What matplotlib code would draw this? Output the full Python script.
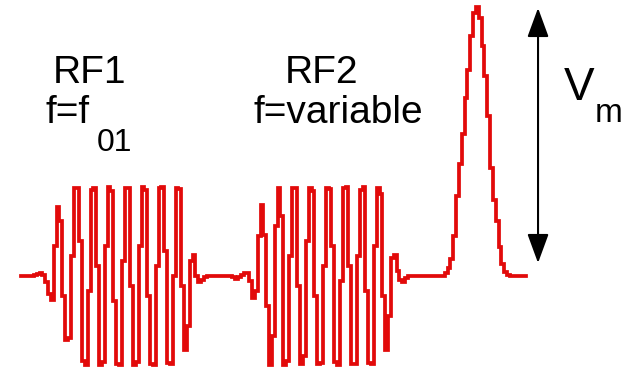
import numpy as np
import matplotlib
matplotlib.use("Agg")
import matplotlib.pyplot as plt

# sampled trace, amplitude above baseline, one value per sample
rf1 = [0, 0, 0, 0, 0, 1, 2, 3, 1, -6, -18, -24, 30, 69, 55, -20, -64, -62,
       20, 88, 88, 35, -85, -89, -15, 86, 88, 10, -89, -86, 30, 89, 85, -25,
       -88, -89, 15, 88, 88, -10, -89, -86, 30, 89, 86, -20, -88, -89, 10,
       88, 89, 25, -87, -88, 0, 88, 87, -10, -74, -50, 15, 21, 0, -6, -4, -1, 0]
rf2 = [0, 0, 0, 0, -1, -3, -1, 1, 3, 3, -5, -22, -15, 40, 71, 41, -30, -89,
       -60, 50, 88, 60, -89, -85, 20, 88, 88, -10, -88, -80, 35, 88, 85, -20,
       -88, -87, 10, 88, 87, 30, -86, -89, -5, 88, 89, 10, -88, -88, 20, 86,
       89, -15, -87, -88, 30, 88, 82, -20, -74, -40, 18, 21, 5, -4, -6, -2, 0]
pulse = [0, 3, 8, 17, 40, 80, 112, 142, 178, 206, 240, 263, 269, 258, 230,
         200, 160, 108, 76, 55, 29, 12, 4, 1, 0, 0, 0, 0, 0, 0]
gap1 = 4
gap2 = 11
vm_top = 268
vm_bottom = 13

signal = np.concatenate([rf1, np.zeros(gap1), rf2, np.zeros(gap2), pulse])
t = np.arange(len(signal))

W, H = 625, 370
fig = plt.figure(figsize=(W / 100, H / 100), dpi=100)
ax = fig.add_axes([0, 0, 1, 1])
ax.set_xlim(-7.5, 213.1)
ax.set_ylim(-94, 276)
ax.axis("off")

ax.plot(t, signal, color="#e20a0a", lw=2.7, drawstyle="steps-mid",
        solid_joinstyle="miter")

ax_x = (538 - 21.25) / 2.833
ax.annotate("", xy=(ax_x, vm_top), xytext=(ax_x, vm_bottom),
            arrowprops=dict(arrowstyle="<|-|>,head_length=0.9,head_width=0.33",
                            mutation_scale=20, lw=1.5, color="black",
                            shrinkA=0, shrinkB=0))

font = "Liberation Sans"


def label(x, y, s, size):
    fig.text(x / W, 1 - y / H, s, fontsize=size, family=font,
             ha="left", va="baseline")


label(53, 83, "RF1", 28)
label(45, 123, "f=f", 28)
label(97, 151, "01", 23)
label(285, 83, "RF2", 28)
label(253, 123, "f=variable", 28)
label(564, 100, "V", 33)
label(595, 122, "m", 24)

fig.savefig("out.png", dpi=100)
